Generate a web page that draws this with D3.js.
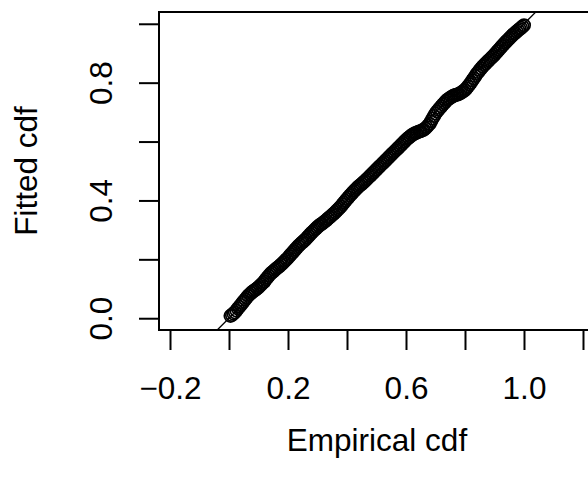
<!DOCTYPE html>
<html>
<head>
<meta charset="utf-8">
<script src="https://cdn.jsdelivr.net/npm/d3@7"></script>
<style>
  body { margin: 0; background: #fff; }
  svg { display: block; font-family: "Liberation Sans", Arial, sans-serif; }
</style>
</head>
<body>
<div id="chart"></div>
<script>
/* Empirical cdf of the sample (x) */
const empirical = [
  0.005, 0.010, 0.015, 0.020, 0.025, 0.030, 0.035, 0.040, 0.045, 0.050,
  0.055, 0.060, 0.065, 0.070, 0.075, 0.080, 0.085, 0.090, 0.095, 0.100,
  0.105, 0.110, 0.115, 0.120, 0.125, 0.130, 0.135, 0.140, 0.145, 0.150,
  0.155, 0.160, 0.165, 0.170, 0.175, 0.180, 0.185, 0.190, 0.195, 0.200,
  0.205, 0.210, 0.215, 0.220, 0.225, 0.230, 0.235, 0.240, 0.245, 0.250,
  0.255, 0.260, 0.265, 0.270, 0.275, 0.280, 0.285, 0.290, 0.295, 0.300,
  0.305, 0.310, 0.315, 0.320, 0.325, 0.330, 0.335, 0.340, 0.345, 0.350,
  0.355, 0.360, 0.365, 0.370, 0.375, 0.380, 0.385, 0.390, 0.395, 0.400,
  0.405, 0.410, 0.415, 0.420, 0.425, 0.430, 0.435, 0.440, 0.445, 0.450,
  0.455, 0.460, 0.465, 0.470, 0.475, 0.480, 0.485, 0.490, 0.495, 0.500,
  0.505, 0.510, 0.515, 0.520, 0.525, 0.530, 0.535, 0.540, 0.545, 0.550,
  0.555, 0.560, 0.565, 0.570, 0.575, 0.580, 0.585, 0.590, 0.595, 0.600,
  0.605, 0.610, 0.615, 0.620, 0.625, 0.630, 0.635, 0.640, 0.645, 0.650,
  0.655, 0.660, 0.665, 0.670, 0.675, 0.680, 0.685, 0.690, 0.695, 0.700,
  0.705, 0.710, 0.715, 0.720, 0.725, 0.730, 0.735, 0.740, 0.745, 0.750,
  0.755, 0.760, 0.765, 0.770, 0.775, 0.780, 0.785, 0.790, 0.795, 0.800,
  0.805, 0.810, 0.815, 0.820, 0.825, 0.830, 0.835, 0.840, 0.845, 0.850,
  0.855, 0.860, 0.865, 0.870, 0.875, 0.880, 0.885, 0.890, 0.895, 0.900,
  0.905, 0.910, 0.915, 0.920, 0.925, 0.930, 0.935, 0.940, 0.945, 0.950,
  0.955, 0.960, 0.965, 0.970, 0.975, 0.980, 0.985, 0.990, 0.995, 1.000
];

/* Fitted cdf at the same sample points (y) */
const fitted = [
  0.008, 0.011, 0.016, 0.020, 0.026, 0.033, 0.039, 0.045, 0.052, 0.058,
  0.064, 0.070, 0.076, 0.081, 0.086, 0.090, 0.094, 0.097, 0.101, 0.105,
  0.110, 0.115, 0.120, 0.125, 0.132, 0.138, 0.144, 0.150, 0.155, 0.159,
  0.164, 0.168, 0.172, 0.176, 0.181, 0.185, 0.190, 0.195, 0.200, 0.205,
  0.211, 0.217, 0.222, 0.228, 0.234, 0.239, 0.245, 0.250, 0.255, 0.259,
  0.264, 0.268, 0.274, 0.279, 0.285, 0.290, 0.295, 0.300, 0.305, 0.310,
  0.314, 0.318, 0.321, 0.325, 0.329, 0.333, 0.338, 0.342, 0.346, 0.351,
  0.355, 0.360, 0.365, 0.370, 0.375, 0.380, 0.387, 0.393, 0.399, 0.405,
  0.411, 0.417, 0.422, 0.428, 0.433, 0.438, 0.443, 0.448, 0.452, 0.456,
  0.461, 0.465, 0.470, 0.475, 0.480, 0.485, 0.490, 0.495, 0.500, 0.505,
  0.510, 0.515, 0.520, 0.525, 0.530, 0.535, 0.540, 0.545, 0.550, 0.555,
  0.560, 0.565, 0.570, 0.575, 0.580, 0.585, 0.590, 0.595, 0.600, 0.605,
  0.610, 0.614, 0.618, 0.622, 0.625, 0.628, 0.630, 0.632, 0.634, 0.636,
  0.638, 0.640, 0.644, 0.649, 0.655, 0.660, 0.669, 0.678, 0.687, 0.695,
  0.702, 0.708, 0.714, 0.720, 0.726, 0.731, 0.737, 0.742, 0.745, 0.749,
  0.752, 0.755, 0.757, 0.759, 0.760, 0.762, 0.765, 0.768, 0.772, 0.775,
  0.781, 0.787, 0.794, 0.800, 0.808, 0.815, 0.823, 0.830, 0.836, 0.843,
  0.849, 0.855, 0.860, 0.865, 0.870, 0.875, 0.880, 0.885, 0.890, 0.895,
  0.901, 0.907, 0.912, 0.918, 0.924, 0.929, 0.935, 0.940, 0.945, 0.950,
  0.955, 0.960, 0.965, 0.969, 0.974, 0.978, 0.982, 0.986, 0.991, 0.995
];

/* Axis ticks and which ones carry a label */
const xTicks = [-0.2, 0.0, 0.2, 0.4, 0.6, 0.8, 1.0, 1.2];
const xLabelled = [-0.2, 0.2, 0.6, 1.0];
const yTicks = [0.0, 0.2, 0.4, 0.6, 0.8, 1.0];
const yLabelled = [0.0, 0.4, 0.8];

const points = empirical.map((e, i) => ({ x: e, y: fitted[i] }));

const width = 588, height = 483;
const plot = { left: 159, right: 595, top: 12, bottom: 330 };
const fontSize = 31.5;

const svg = d3.select("#chart")
  .append("svg")
  .attr("width", width)
  .attr("height", height);

svg.append("rect").attr("width", width).attr("height", height).attr("fill", "#fff");

/* R style user coordinates (4% padding on y) */
const x = d3.scaleLinear().domain([-0.2373, 1.2407]).range([plot.left, plot.right]);
const y = d3.scaleLinear().domain([-0.04, 1.04]).range([plot.bottom, plot.top]);

const fmt = d => (d < 0 ? "\u2212" : "") + Math.abs(d).toFixed(1);

/* Points */
svg.append("g")
  .selectAll("circle")
  .data(points)
  .join("circle")
    .attr("cx", d => x(d.x))
    .attr("cy", d => y(d.y))
    .attr("r", 6.2)
    .attr("fill", "none")
    .attr("stroke", "#000")
    .attr("stroke-width", 1.7);

/* Reference line y = x, clipped to the plot region */
svg.append("clipPath").attr("id", "clip")
  .append("rect")
    .attr("x", plot.left).attr("y", plot.top)
    .attr("width", plot.right - plot.left).attr("height", plot.bottom - plot.top);

svg.append("line")
  .attr("clip-path", "url(#clip)")
  .attr("x1", x(-0.1)).attr("y1", y(-0.1))
  .attr("x2", x(1.1)).attr("y2", y(1.1))
  .attr("stroke", "#000")
  .attr("stroke-width", 1.3);

/* Box */
svg.append("rect")
  .attr("x", plot.left).attr("y", plot.top)
  .attr("width", plot.right - plot.left).attr("height", plot.bottom - plot.top)
  .attr("fill", "none")
  .attr("stroke", "#000")
  .attr("stroke-width", 2);

/* X axis */
const gx = svg.append("g")
  .attr("transform", `translate(0,${plot.bottom})`)
  .call(d3.axisBottom(x)
    .tickValues(xTicks)
    .tickSize(20)
    .tickFormat(d => xLabelled.some(v => Math.abs(v - d) < 1e-9) ? fmt(d) : ""));

gx.select(".domain").remove();
gx.selectAll(".tick line").attr("stroke", "#000").attr("stroke-width", 2);
gx.selectAll(".tick text")
  .attr("y", 69).attr("dy", 0)
  .attr("fill", "#000")
  .attr("font-size", fontSize)
  .attr("font-family", "Liberation Sans, Arial, sans-serif");

/* Y axis */
const gy = svg.append("g")
  .attr("transform", `translate(${plot.left},0)`)
  .call(d3.axisLeft(y)
    .tickValues(yTicks)
    .tickSize(20)
    .tickFormat(d => yLabelled.some(v => Math.abs(v - d) < 1e-9) ? fmt(d) : ""));

gy.select(".domain").remove();
gy.selectAll(".tick line").attr("stroke", "#000").attr("stroke-width", 2);
gy.selectAll(".tick text")
  .attr("x", 0).attr("y", -47).attr("dy", 0)
  .attr("transform", "rotate(-90)")
  .attr("text-anchor", "middle")
  .attr("fill", "#000")
  .attr("font-size", fontSize)
  .attr("font-family", "Liberation Sans, Arial, sans-serif");

/* Axis titles */
svg.append("text")
  .attr("x", (plot.left + plot.right) / 2)
  .attr("y", 451)
  .attr("text-anchor", "middle")
  .attr("font-size", fontSize)
  .text("Empirical cdf");

svg.append("text")
  .attr("transform", `translate(37,${(plot.top + plot.bottom) / 2}) rotate(-90)`)
  .attr("text-anchor", "middle")
  .attr("font-size", fontSize)
  .text("Fitted cdf");
</script>
</body>
</html>
